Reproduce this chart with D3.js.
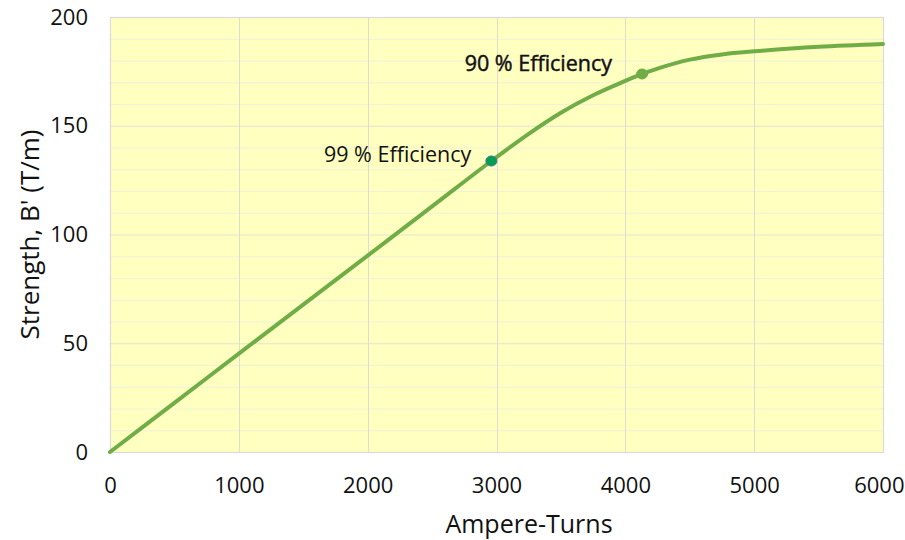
<!DOCTYPE html>
<html>
<head>
<meta charset="utf-8">
<script src="https://cdn.jsdelivr.net/npm/d3@7"></script>
<style>
  html, body { margin: 0; padding: 0; background: #ffffff; }
  svg { display: block; font-family: "Open Sans", "Noto Sans", sans-serif; }
</style>
</head>
<body>
<svg id="chart" width="905" height="540"></svg>
<script>
// Magnet strength versus excitation
const ampereTurns = [0, 500, 1000, 1500, 2000, 2500, 2960, 3250, 3500, 3750, 4000, 4130, 4250, 4500, 4750, 5000, 5500, 6000];
const strength    = [0, 22.6, 45.2, 67.8, 90.3, 112.9, 133.8, 146.3, 156.0, 164.0, 170.6, 173.8, 176.3, 180.4, 182.8, 184.2, 186.3, 187.6];

// Efficiency markers
const markerLabels = ["99 % Efficiency", "90 % Efficiency"];
const markerX = [2960, 4130];
const markerY = [133.8, 173.8];

const xTicks = [0, 1000, 2000, 3000, 4000, 5000, 6000];
const yTicks = [0, 50, 100, 150, 200];
const yMinorTicks = d3.range(0, 201, 10);

const svg = d3.select("#chart");
const margin = { left: 110, right: 22, top: 17, bottom: 88 };
const W = 905, H = 540;
const x = d3.scaleLinear().domain([0, 6000]).range([margin.left, W - margin.right]);
const y = d3.scaleLinear().domain([0, 200]).range([H - margin.bottom, margin.top]);

// plot area
svg.append("rect")
  .attr("x", x(0)).attr("y", y(200))
  .attr("width", x(6000) - x(0)).attr("height", y(0) - y(200))
  .attr("fill", "#ffffc0");

// minor horizontal grid
svg.append("g").selectAll("line")
  .data(yMinorTicks.filter(v => v % 50 !== 0))
  .join("line")
  .attr("x1", x(0)).attr("x2", x(6000))
  .attr("y1", d => y(d) + 0.5).attr("y2", d => y(d) + 0.5)
  .attr("stroke", "#f0f0dc").attr("stroke-width", 1);

// major horizontal grid
svg.append("g").selectAll("line")
  .data(yTicks)
  .join("line")
  .attr("x1", x(0)).attr("x2", x(6000))
  .attr("y1", d => y(d) + 0.5).attr("y2", d => y(d) + 0.5)
  .attr("stroke", "#e2e2d2").attr("stroke-width", 1);

// vertical grid
svg.append("g").selectAll("line")
  .data(xTicks)
  .join("line")
  .attr("x1", d => Math.round(x(d)) + 0.5).attr("x2", d => Math.round(x(d)) + 0.5)
  .attr("y1", y(0)).attr("y2", y(200))
  .attr("stroke", "#dcdcd0").attr("stroke-width", 1);

// plot border
svg.append("rect")
  .attr("x", x(0) + 0.5).attr("y", y(200) + 0.5)
  .attr("width", x(6000) - x(0)).attr("height", y(0) - y(200))
  .attr("fill", "none").attr("stroke", "#dadada").attr("stroke-width", 1.2);

// axes (labels only)
const xAxis = d3.axisBottom(x).tickValues(xTicks).tickSize(0).tickPadding(25).tickFormat(d3.format("d"));
const gx = svg.append("g").attr("transform", `translate(0,${y(0)})`).call(xAxis);
gx.select(".domain").remove();
gx.selectAll("text").attr("font-size", 22).attr("fill", "#111").attr("font-family", "Open Sans, sans-serif");
// keep the last tick label inside the canvas
gx.selectAll("text").filter(d => d === 6000).attr("text-anchor", "end").attr("dx", 21);

const yAxis = d3.axisLeft(y).tickValues(yTicks).tickSize(0).tickPadding(22).tickFormat(d3.format("d"));
const gy = svg.append("g").attr("transform", `translate(${x(0)},0)`).call(yAxis);
gy.select(".domain").remove();
gy.selectAll("text").attr("font-size", 22).attr("fill", "#111").attr("font-family", "Open Sans, sans-serif");

// axis titles
svg.append("text")
  .attr("x", 529).attr("y", 533)
  .attr("text-anchor", "middle")
  .attr("font-size", 25).attr("fill", "#111")
  .text("Ampere-Turns");

svg.append("text")
  .attr("transform", `translate(39,${(y(0) + y(200)) / 2}) rotate(-90)`)
  .attr("text-anchor", "middle")
  .attr("font-size", 26).attr("fill", "#111")
  .text("Strength, B' (T/m)");

// curve
const pts = ampereTurns.map((a, i) => [a, strength[i]]);
const line = d3.line().x(d => x(d[0])).y(d => y(d[1])).curve(d3.curveCatmullRom.alpha(0.5));
svg.append("path")
  .datum(pts)
  .attr("d", line)
  .attr("fill", "none")
  .attr("stroke", "#70ad47")
  .attr("stroke-width", 4)
  .attr("stroke-linecap", "round");

// markers
const markerFill = ["#00a050", "#70ad47"];
const markerStroke = ["#41719c", "#70ad47"];
svg.append("g").selectAll("ellipse")
  .data(markerX)
  .join("ellipse")
  .attr("cx", d => x(d))
  .attr("cy", (d, i) => y(markerY[i]))
  .attr("rx", 5.5).attr("ry", 5)
  .attr("fill", (d, i) => markerFill[i])
  .attr("stroke", (d, i) => markerStroke[i])
  .attr("stroke-width", 1);

// marker labels
const labelDx = [-20, -30];
const labelDy = [1, -3];
svg.append("g").selectAll("text")
  .data(markerLabels)
  .join("text")
  .attr("x", (d, i) => x(markerX[i]) + labelDx[i])
  .attr("y", (d, i) => y(markerY[i]) + labelDy[i])
  .attr("text-anchor", "end")
  .attr("font-size", 21.5)
  .attr("fill", "#111")
  .attr("stroke", (d, i) => i === 1 ? "#111" : "none")
  .attr("stroke-width", 0.45)
  .text(d => d);
</script>
</body>
</html>
